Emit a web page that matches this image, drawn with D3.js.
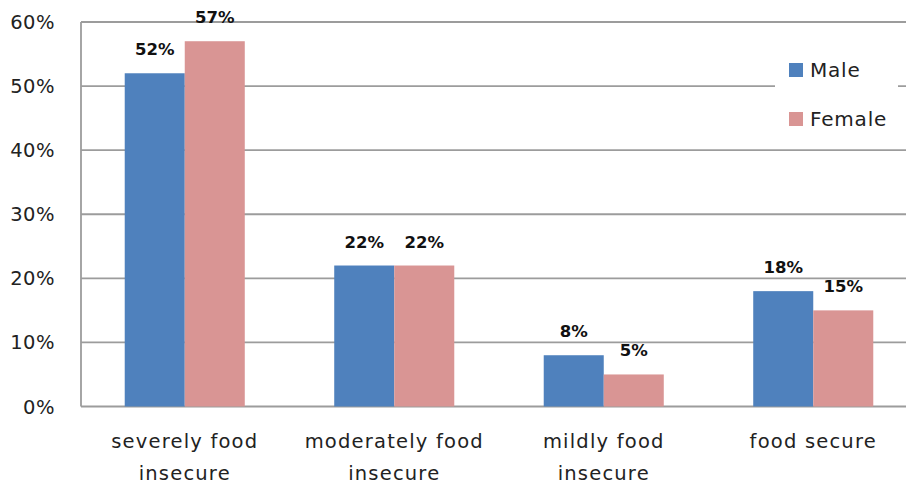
<!DOCTYPE html>
<html><head><meta charset="utf-8">
<script src="https://cdn.jsdelivr.net/npm/d3@7"></script>
<style>body{margin:0;background:#fff}svg{display:block}</style>
</head><body>
<svg id="c" width="906" height="484"></svg>
<script>
const categories = [["severely food","insecure"],["moderately food","insecure"],["mildly food","insecure"],["food secure"]];
const seriesNames = ["Male","Female"];
const maleValues = [52,22,8,18];
const femaleValues = [57,22,5,15];
const yTicks = [0,10,20,30,40,50,60];
const colors = ["#4F81BD","#D99594"];

const svg = d3.select("#c");
const font = "DejaVu Sans, Verdana, sans-serif";
const y = d3.scaleLinear().domain([0,60]).range([406.5,22]);
const x = d3.scaleBand().domain(d3.range(categories.length)).range([80,918]).paddingInner(0.427).paddingOuter(0.2135);
const xs = d3.scaleBand().domain(seriesNames).range([0,x.bandwidth()]);

// gridlines
svg.append("g").selectAll("line").data(yTicks).join("line")
  .attr("x1",81).attr("x2",906).attr("y1",d=>y(d)).attr("y2",d=>y(d))
  .attr("stroke","#9c9c9c").attr("stroke-width",1.8);
// y axis line
svg.append("line").attr("x1",81).attr("x2",81).attr("y1",y(60)).attr("y2",y(0))
  .attr("stroke","#9c9c9c").attr("stroke-width",1.8);
// y tick labels
svg.append("g").selectAll("text").data(yTicks).join("text")
  .attr("x",55).attr("y",d=>y(d)).attr("dy","0.36em").attr("text-anchor","end")
  .attr("font-family",font).attr("font-size",19.5).attr("letter-spacing",0.5).attr("fill","#222")
  .text(d=>d+"%");

const data = categories.map((c,i)=>({i, vals:[maleValues[i],femaleValues[i]]}));
const g = svg.append("g").selectAll("g").data(data).join("g")
  .attr("transform",d=>`translate(${x(d.i)},0)`);
g.selectAll("rect").data(d=>d.vals.map((v,j)=>({v,s:seriesNames[j],j}))).join("rect")
  .attr("x",d=>xs(d.s)).attr("width",xs.bandwidth())
  .attr("y",d=>y(d.v)).attr("height",d=>y(0)-y(d.v))
  .attr("fill",d=>colors[d.j]);
g.selectAll("text").data(d=>d.vals.map((v,j)=>({v,s:seriesNames[j],j}))).join("text")
  .attr("x",d=>xs(d.s)+xs.bandwidth()/2).attr("y",d=>y(d.v)-18)
  .attr("text-anchor","middle").attr("font-family",font).attr("font-weight","bold")
  .attr("font-size",16.5).attr("fill","#111").text(d=>d.v+"%");

// category labels
const cl = svg.append("g").selectAll("text").data(categories).join("text")
  .attr("text-anchor","middle").attr("font-family",font).attr("font-size",19.5)
  .attr("letter-spacing",1.2).attr("fill","#222")
  .attr("transform",(d,i)=>`translate(${x(i)+x.bandwidth()/2},0)`);
cl.selectAll("tspan").data(d=>d).join("tspan")
  .attr("x",0).attr("y",(d,k)=>448+k*32).text(d=>d);

// legend
const lg = svg.append("g");
lg.append("rect").attr("x",775).attr("y",50).attr("width",123).attr("height",90).attr("fill","#fff");
const li = lg.selectAll("g").data(seriesNames).join("g")
  .attr("transform",(d,i)=>`translate(789,${63+i*49})`);
li.append("rect").attr("width",14).attr("height",14).attr("fill",(d,i)=>colors[i]);
li.append("text").attr("x",21).attr("y",7).attr("dy","0.36em")
  .attr("font-family",font).attr("font-size",20).attr("letter-spacing",0.8)
  .attr("fill","#222").text(d=>d);
</script>
</body></html>
